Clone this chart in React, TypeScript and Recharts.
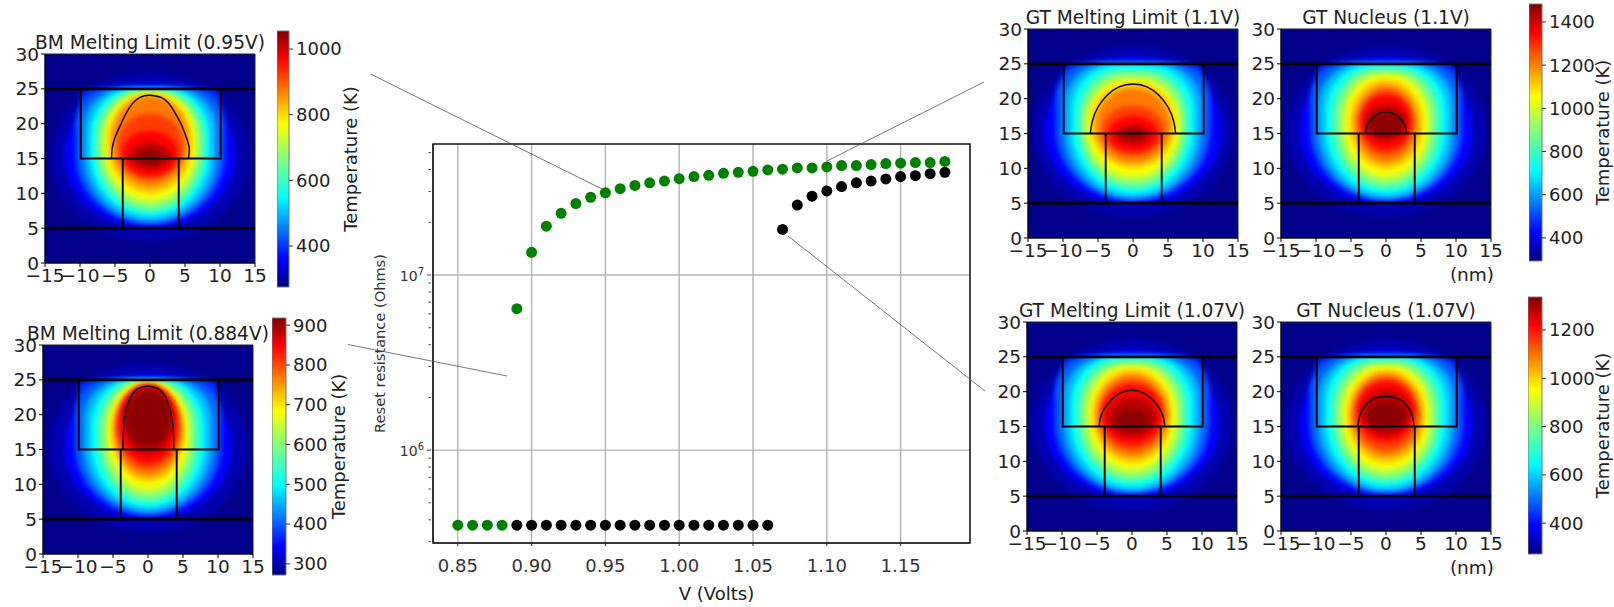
import { CSSProperties } from "react";
import {
  CartesianGrid,
  ComposedChart,
  Line,
  ReferenceArea,
  Scatter,
  ScatterChart,
  XAxis,
  YAxis,
} from "recharts";

// reset resistance vs voltage
const greenVolts = [0.85, 0.86, 0.87, 0.88, 0.89, 0.9, 0.91, 0.92, 0.93, 0.94, 0.95, 0.96, 0.97, 0.98, 0.99, 1.0, 1.01, 1.02, 1.03, 1.04, 1.05, 1.06, 1.07, 1.08, 1.09, 1.1, 1.11, 1.12, 1.13, 1.14, 1.15, 1.16, 1.17, 1.18];
const greenOhms = [3.73e5, 3.73e5, 3.73e5, 3.73e5, 6.42e6, 1.347e7, 1.9e7, 2.25e7, 2.56e7, 2.78e7, 2.95e7, 3.11e7, 3.25e7, 3.36e7, 3.44e7, 3.55e7, 3.65e7, 3.71e7, 3.81e7, 3.86e7, 3.91e7, 3.98e7, 4.02e7, 4.09e7, 4.09e7, 4.14e7, 4.22e7, 4.22e7, 4.27e7, 4.33e7, 4.35e7, 4.39e7, 4.39e7, 4.45e7];
const blackVolts = [0.89, 0.9, 0.91, 0.92, 0.93, 0.94, 0.95, 0.96, 0.97, 0.98, 0.99, 1.0, 1.01, 1.02, 1.03, 1.04, 1.05, 1.06, 1.07, 1.08, 1.09, 1.1, 1.11, 1.12, 1.13, 1.14, 1.15, 1.16, 1.17, 1.18];
const blackOhms = [3.73e5, 3.73e5, 3.73e5, 3.73e5, 3.73e5, 3.73e5, 3.73e5, 3.73e5, 3.73e5, 3.73e5, 3.73e5, 3.73e5, 3.73e5, 3.73e5, 3.73e5, 3.73e5, 3.73e5, 3.73e5, 1.82e7, 2.51e7, 2.82e7, 3.02e7, 3.2e7, 3.36e7, 3.44e7, 3.54e7, 3.65e7, 3.69e7, 3.79e7, 3.86e7];
const voltTicks = [0.85, 0.9, 0.95, 1.0, 1.05, 1.1, 1.15];
const ohmMajor = [1e6, 1e7];
const ohmTicks = [3e5, 4e5, 5e5, 6e5, 7e5, 8e5, 9e5, 1e6, 2e6, 3e6, 4e6, 5e6, 6e6, 7e6, 8e6, 9e6, 1e7, 2e7, 3e7, 4e7, 5e7];

// jet colormap
const jetStops: [number, string][] = [
  [0, "#00007f"],
  [0.11, "#0000ff"],
  [0.35, "#00ffff"],
  [0.5, "#7fff7f"],
  [0.64, "#ffff00"],
  [0.89, "#ff0000"],
  [1, "#7f0000"],
];

// heat field: position on the jet scale, and how square each contour's top looks
const heatLevels = [0.04, 0.11, 0.2, 0.28, 0.35, 0.42, 0.5, 0.57, 0.64, 0.7, 0.77, 0.83, 0.89, 0.95, 0.99];
const topRound = [1, 1, 0.5, 0.6, 0.7, 0.75, 0.8, 0.85, 0.9, 0.95, 1, 1, 1, 1, 1];

// blue glow that fills the upper half of the cell box (half width, low, high, level)
const boxGlow = [10, 14, 25, 0.15];

// contour per level: half width, lowest y, highest y (nm)
const bm095Field = [[14.2, 3.2, 27.4], [12.2, 5, 25.8], [10.6, 5.6, 25.1], [9.5, 6, 25], [8.6, 6.7, 24.9], [8, 7.2, 24.8], [7.4, 7.8, 24.6], [6.9, 8.5, 24.5], [6.4, 9.2, 24.3], [6, 10, 24.2], [5.4, 11, 24], [4.7, 12, 21.5], [4, 12.5, 19], [3, 13.5, 17.2], [1.8, 14.2, 16.2]];
const bm0884Field = [[14.2, 3.2, 27.4], [12, 5, 25.8], [10.4, 5.6, 25.1], [9.2, 6, 25], [8.2, 6.7, 24.9], [7.4, 7.2, 24.8], [6.7, 7.9, 24.7], [6.1, 8.6, 24.6], [5.6, 9.5, 24.5], [5.2, 10.4, 24.4], [4.8, 11.2, 24.3], [4.5, 12.2, 24.3], [4.2, 13, 24.2], [3.6, 14.3, 24], [3.2, 15.5, 23.5]];
const gtMelt11Field = [[14.3, 3, 27.6], [12.7, 4.8, 26], [11, 5.4, 25.2], [9.8, 5.7, 25], [8.8, 6.3, 24.8], [8, 6.9, 24.3], [7.4, 7.5, 23.8], [6.9, 8.2, 23.2], [6.4, 9, 22.6], [6, 10, 22.3], [5.3, 10.8, 21.5], [4.4, 11.8, 19], [3.6, 12.4, 17.5], [2.4, 13.5, 16.2], [1.3, 14.3, 15.6]];
const gtNuc11Field = [[14.3, 3, 27.6], [12.4, 4.8, 26], [10.8, 5.4, 25.2], [9.7, 5.7, 25], [8.7, 6.3, 24.8], [7.9, 6.9, 24.5], [7.1, 7.5, 24.1], [6.4, 8.2, 23.7], [5.8, 9, 23.2], [5.2, 9.9, 22.7], [4.5, 10.8, 22], [3.9, 11.8, 21.2], [3.6, 12.7, 20.6], [3, 14, 19.2], [2.5, 14.7, 18]];
const gtMelt107Field = [[14.3, 3, 27.6], [12.5, 4.8, 26], [11, 5.4, 25.2], [9.8, 5.7, 25], [8.8, 6.3, 24.9], [8, 6.9, 24.7], [7.3, 7.5, 24.3], [6.7, 8.2, 23.9], [6.1, 9, 23.5], [5.6, 9.8, 23.1], [5.1, 10.7, 22.5], [4.6, 11.6, 21.7], [4.3, 12.4, 21], [3.5, 13.5, 19.2], [2.4, 14.4, 17.5]];
const gtNuc107Field = [[14.3, 3, 27.6], [12.4, 4.8, 26], [10.9, 5.4, 25.2], [9.7, 5.7, 25], [8.7, 6.3, 24.9], [7.9, 6.9, 24.7], [7.2, 7.5, 24.3], [6.6, 8.2, 23.9], [6, 9, 23.5], [5.5, 9.8, 23.1], [5, 10.7, 22.6], [4.5, 11.6, 22], [4.1, 12.8, 21.5], [3.5, 13.7, 20.3], [2.8, 14.6, 18.6]];

// melt front outlines (nm)
const bm095Melt = [[-5.5, 15], [-5.4, 16.5], [-5, 18], [-4, 20.3], [-3, 22.2], [-2, 23.4], [-0.8, 24], [0.3, 24.05], [1.5, 23.8], [2.6, 23], [3.5, 21.7], [4.5, 19.8], [5.2, 18], [5.6, 16.5], [5.5, 15]];
const bm0884Melt = [[-3.6, 15], [-3.5, 18], [-3.2, 20.5], [-2.5, 22.5], [-1.5, 23.7], [0, 24.1], [1.5, 23.7], [2.5, 22.5], [3.2, 20.5], [3.6, 18], [3.7, 15]];
const gtMelt11 = [[-6.1, 15], [-5.8, 16.8], [-5, 18.8], [-3.7, 20.5], [-2, 21.7], [0, 22.1], [2, 21.7], [3.7, 20.5], [5, 18.8], [5.8, 16.8], [6.1, 15]];
const gtNuc11 = [[-2.9, 15], [-2.7, 16.2], [-2, 17.2], [-1, 17.9], [0, 18.1], [1, 17.9], [2, 17.2], [2.7, 16.2], [2.9, 15]];
const gtMelt107 = [[-4.7, 15], [-4.4, 16.6], [-3.5, 18.2], [-2, 19.6], [0, 20.2], [2, 19.6], [3.5, 18.2], [4.4, 16.6], [4.7, 15]];
const gtNuc107 = [[-4, 15], [-3.8, 16.4], [-3, 18], [-1.7, 19], [0, 19.3], [1.7, 19], [3, 18], [3.8, 16.4], [4, 15]];

// device outline (nm)
const topElectrode = [[-15, 25], [15, 25]];
const bottomElectrode = [[-15, 5], [15, 5]];
const cellBox = [[-9.9, 25], [-9.9, 15], [10.1, 15], [10.1, 25]];
const heaterLeft = [[-3.9, 15], [-3.9, 5]];
const heaterRight = [[4.1, 15], [4.1, 5]];

const nmTicksX = [-15, -10, -5, 0, 5, 10, 15];
const nmTicksY = [0, 5, 10, 15, 20, 25, 30];

// thin call-out lines, in page pixels
const leaders = [
  [[370.5, 74], [604, 190]],
  [[348, 344.5], [507, 376]],
  [[984, 82], [827, 161]],
  [[788, 236], [985, 391]],
];

const FONT = "'DejaVu Sans', sans-serif";
const TEXT = "#222";

const toPoints = (rows: number[][]) => rows.map(([x, y]) => ({ x, y }));

function jet(f: number) {
  for (let i = 1; i < jetStops.length; i++) {
    const [f0, c0] = jetStops[i - 1];
    const [f1, c1] = jetStops[i];
    if (f <= f1) {
      const t = (f - f0) / (f1 - f0);
      const ch = (c: string, k: number) => parseInt(c.slice(1 + k * 2, 3 + k * 2), 16);
      const mix = [0, 1, 2].map((k) => Math.round(ch(c0, k) + (ch(c1, k) - ch(c0, k)) * t));
      return `rgb(${mix.join(",")})`;
    }
  }
  return "#7f0000";
}

const absolute = (left: number, top: number): CSSProperties => ({ position: "absolute", left, top });

const minusTick = (v: number) => String(v).replace("-", "\u2212");

// round bottom, squarer top: the field is cut off flat by the top electrode
const HeatBand = ({ x, y, width, height, level, round, blurId }: any) => {
  const rx = width / 2;
  const bottomRy = height / 2;
  const topRx = rx * round;
  const topRy = bottomRy * round;
  const d = [
    `M${x},${y + topRy}`,
    `A${topRx},${topRy} 0 0 1 ${x + topRx},${y}`,
    `L${x + width - topRx},${y}`,
    `A${topRx},${topRy} 0 0 1 ${x + width},${y + topRy}`,
    `L${x + width},${y + height - bottomRy}`,
    `A${rx},${bottomRy} 0 0 1 ${x},${y + height - bottomRy}`,
    "Z",
  ].join(" ");
  return <path d={d} fill={jet(level)} stroke="none" filter={`url(#${blurId})`} />;
};

const Panel = ({ id, title, plotX, plotY, field, melt, unit }: any) => {
  const plotW = 210;
  const plotH = 209;
  const left = 44;
  const top = 30;
  const right = 36;
  const xAxisH = 26;
  const extra = 30;
  const outline = (rows: number[][], key: string, w: number, curve: any = "linear") => (
    <Line
      key={key}
      data={toPoints(rows)}
      dataKey="y"
      type={curve}
      stroke="#000"
      strokeWidth={w}
      dot={false}
      activeDot={false}
      isAnimationActive={false}
    />
  );
  return (
    <div style={absolute(plotX - left, plotY - top)}>
      <ComposedChart
        width={plotW + left + right}
        height={plotH + top + xAxisH + extra}
        margin={{ left: 0, top, right, bottom: extra }}
      >
        <defs>
          <filter id={id} filterUnits="userSpaceOnUse" x={-60} y={-60} width={500} height={500}>
            <feGaussianBlur stdDeviation={2.6} />
          </filter>
        </defs>
        <XAxis
          type="number"
          dataKey="x"
          domain={[-15, 15]}
          ticks={nmTicksX}
          interval={0}
          height={xAxisH}
          tickSize={4}
          tickMargin={2}
          tickFormatter={minusTick}
          tick={{ fontSize: 18.5, fill: TEXT }}
          stroke="#000"
        />
        <YAxis
          type="number"
          domain={[0, 30]}
          ticks={nmTicksY}
          interval={0}
          width={left}
          tickSize={4}
          tickMargin={2}
          tick={{ fontSize: 18.5, fill: TEXT }}
          stroke="#000"
        />
        <ReferenceArea x1={-15} x2={15} y1={0} y2={30} fill={jet(0.01)} fillOpacity={1} stroke="none" />
        {field.slice(0, 2).map(([half, low, high]: number[], i: number) => (
          <ReferenceArea
            key={`outer${i}`}
            x1={-half}
            x2={half}
            y1={low}
            y2={high}
            shape={(p: any) => <HeatBand {...p} level={heatLevels[i]} round={topRound[i]} blurId={id} />}
          />
        ))}
        <ReferenceArea
          x1={-boxGlow[0]}
          x2={boxGlow[0]}
          y1={boxGlow[1]}
          y2={boxGlow[2]}
          shape={(p: any) => <HeatBand {...p} level={boxGlow[3]} round={0.2} blurId={id} />}
        />
        {field.slice(2).map(([half, low, high]: number[], i: number) => (
          <ReferenceArea
            key={i}
            x1={-half}
            x2={half}
            y1={low}
            y2={high}
            shape={(p: any) => <HeatBand {...p} level={heatLevels[i + 2]} round={topRound[i + 2]} blurId={id} />}
          />
        ))}
        {outline(topElectrode, "top", 2.6)}
        {outline(bottomElectrode, "bottom", 2.6)}
        {outline(cellBox, "box", 1.9)}
        {outline(heaterLeft, "hl", 1.9)}
        {outline(heaterRight, "hr", 1.9)}
        {outline(melt, "melt", 1.4, "natural")}
        <ReferenceArea x1={-15} x2={15} y1={0} y2={30} fill="none" stroke="#223" strokeWidth={1} />
        <text x={left + plotW / 2} y={top - 5} textAnchor="middle" fontSize={18.6} fill={TEXT}>
          {title}
        </text>
        {unit && (
          <text x={left + plotW - 19} y={top + plotH + 43} textAnchor="middle" fontSize={18.5} fill={TEXT}>
            (nm)
          </text>
        )}
      </ComposedChart>
    </div>
  );
};

const Colorbar = ({ id, x, y, w, h, min, max, ticks, labelX }: any) => {
  const axisW = 80;
  // the axes need a series to resolve against, so span the bar with a hidden one
  const span = [{ x: 0, y: min }, { x: 1, y: max }];
  return (
    <div style={absolute(x, y - 4)}>
      <ComposedChart width={w + axisW} height={h + 8} margin={{ left: 0, right: 0, top: 4, bottom: 4 }}>
        <defs>
          <linearGradient id={id} x1="0" y1="1" x2="0" y2="0">
            {jetStops.map(([f, c]) => (
              <stop key={f} offset={f} stopColor={c} />
            ))}
          </linearGradient>
        </defs>
        <XAxis type="number" dataKey="x" domain={[0, 1]} hide />
        <YAxis
          orientation="right"
          type="number"
          domain={[min, max]}
          ticks={ticks}
          interval={0}
          width={axisW}
          tickSize={4}
          tickMargin={3}
          axisLine={false}
          tick={{ fontSize: 18, fill: TEXT, textAnchor: "start" }}
          stroke="#333"
        />
        <ReferenceArea x1={0} x2={1} y1={min} y2={max} fill={`url(#${id})`} fillOpacity={1} stroke="#777" strokeWidth={1} />
        <Line data={span} dataKey="y" stroke="none" dot={false} activeDot={false} isAnimationActive={false} />
        <text
          transform={`translate(${labelX},${h / 2 + 4}) rotate(-90)`}
          textAnchor="middle"
          dominantBaseline="middle"
          fontSize={18}
          fill={TEXT}
        >
          Temperature (K)
        </text>
      </ComposedChart>
    </div>
  );
};

const PowerTick = ({ x, y, payload }: any) => {
  const major = ohmMajor.includes(payload.value);
  const power = Math.round(Math.log10(payload.value));
  return (
    <g>
      <line x1={x - (major ? 4 : 2.5)} x2={x} y1={y} y2={y} stroke="#444" />
      {major && (
        <text x={x - 7} y={y + 6} textAnchor="end" fontSize={14} fill="#333">
          10
          <tspan dy={-6} fontSize={10}>
            {power}
          </tspan>
        </text>
      )}
    </g>
  );
};

const ResistanceChart = () => {
  const green = greenVolts.map((v, i) => ({ v, r: greenOhms[i] }));
  const black = blackVolts.map((v, i) => ({ v, r: blackOhms[i] }));
  const yAxisW = 70;
  return (
    <div style={absolute(433 - yAxisW, 134)}>
      <ScatterChart width={yAxisW + 537 + 10} height={10 + 399 + 64} margin={{ left: 0, top: 10, right: 10, bottom: 0 }}>
        <CartesianGrid horizontalValues={ohmMajor} stroke="#b4b4b4" strokeWidth={1.4} />
        <XAxis
          type="number"
          dataKey="v"
          domain={[0.8332, 1.197]}
          ticks={voltTicks}
          interval={0}
          height={64}
          tickSize={3}
          tickMargin={13}
          tickFormatter={(v: number) => v.toFixed(2)}
          tick={{ fontSize: 18, fill: "#333" }}
          stroke="#222"
          label={{ value: "V (Volts)", position: "insideBottom", offset: 7, dx: 15, fontSize: 18, fill: "#222" }}
        />
        <YAxis
          type="number"
          dataKey="r"
          scale="log"
          domain={[2.95e5, 5.6e7]}
          ticks={ohmTicks}
          interval={0}
          width={yAxisW}
          tickLine={false}
          tickSize={0}
          tick={<PowerTick />}
          stroke="#222"
          label={{
            value: "Reset resistance (Ohms)",
            angle: -90,
            position: "insideLeft",
            offset: 17,
            fontSize: 14.6,
            fill: "#333",
            style: { textAnchor: "middle" },
          }}
        />
        <ReferenceArea x1={0.8332} x2={1.197} y1={2.95e5} y2={5.6e7} fill="none" stroke="#111" strokeWidth={1.4} />
        <Scatter data={green} fill="#008000" isAnimationActive={false} shape={(p: any) => <circle cx={p.cx} cy={p.cy} r={5.5} fill="#008000" />} />
        <Scatter data={black} fill="#000" isAnimationActive={false} shape={(p: any) => <circle cx={p.cx} cy={p.cy} r={5.5} fill="#000" />} />
      </ScatterChart>
    </div>
  );
};

const LeaderLines = () => (
  <div style={{ ...absolute(0, 0), pointerEvents: "none" }}>
    <ComposedChart width={1614} height={607} margin={{ left: 0, right: 0, top: 0, bottom: 0 }}>
      <XAxis type="number" dataKey="x" domain={[0, 1614]} hide />
      <YAxis type="number" domain={[0, 607]} reversed hide />
      {leaders.map((rows, i) => (
        <Line
          key={i}
          data={toPoints(rows)}
          dataKey="y"
          stroke="#555"
          strokeWidth={0.8}
          dot={false}
          activeDot={false}
          isAnimationActive={false}
        />
      ))}
    </ComposedChart>
  </div>
);

export default function App() {
  return (
    <div style={{ position: "absolute", left: 0, top: 0, width: 1614, height: 607, background: "#fff", overflow: "hidden", fontFamily: FONT }}>
      <Panel id="blurA" title="BM Melting Limit (0.95V)" plotX={44.5} plotY={54} field={bm095Field} melt={bm095Melt} />
      <Panel id="blurB" title="BM Melting Limit (0.884V)" plotX={43} plotY={345} field={bm0884Field} melt={bm0884Melt} />
      <Panel id="blurC" title="GT Melting Limit (1.1V)" plotX={1028} plotY={29} field={gtMelt11Field} melt={gtMelt11} />
      <Panel id="blurD" title="GT Nucleus (1.1V)" plotX={1281} plotY={29} field={gtNuc11Field} melt={gtNuc11} unit />
      <Panel id="blurE" title="GT Melting Limit (1.07V)" plotX={1027} plotY={322} field={gtMelt107Field} melt={gtMelt107} />
      <Panel id="blurF" title="GT Nucleus (1.07V)" plotX={1281} plotY={322} field={gtNuc107Field} melt={gtNuc107} unit />
      <Colorbar id="jetA" x={277} y={31} w={12} h={256} min={275} max={1055} ticks={[400, 600, 800, 1000]} labelX={75} />
      <Colorbar id="jetB" x={272} y={318} w={14} h={257} min={272} max={918} ticks={[300, 400, 500, 600, 700, 800, 900]} labelX={68} />
      <Colorbar id="jetC" x={1529} y={4} w={13} h={257} min={293} max={1483} ticks={[400, 600, 800, 1000, 1200, 1400]} labelX={75} />
      <Colorbar id="jetD" x={1528} y={297} w={14} h={257} min={272} max={1337} ticks={[400, 600, 800, 1000, 1200]} labelX={76} />
      <ResistanceChart />
      <LeaderLines />
    </div>
  );
}
